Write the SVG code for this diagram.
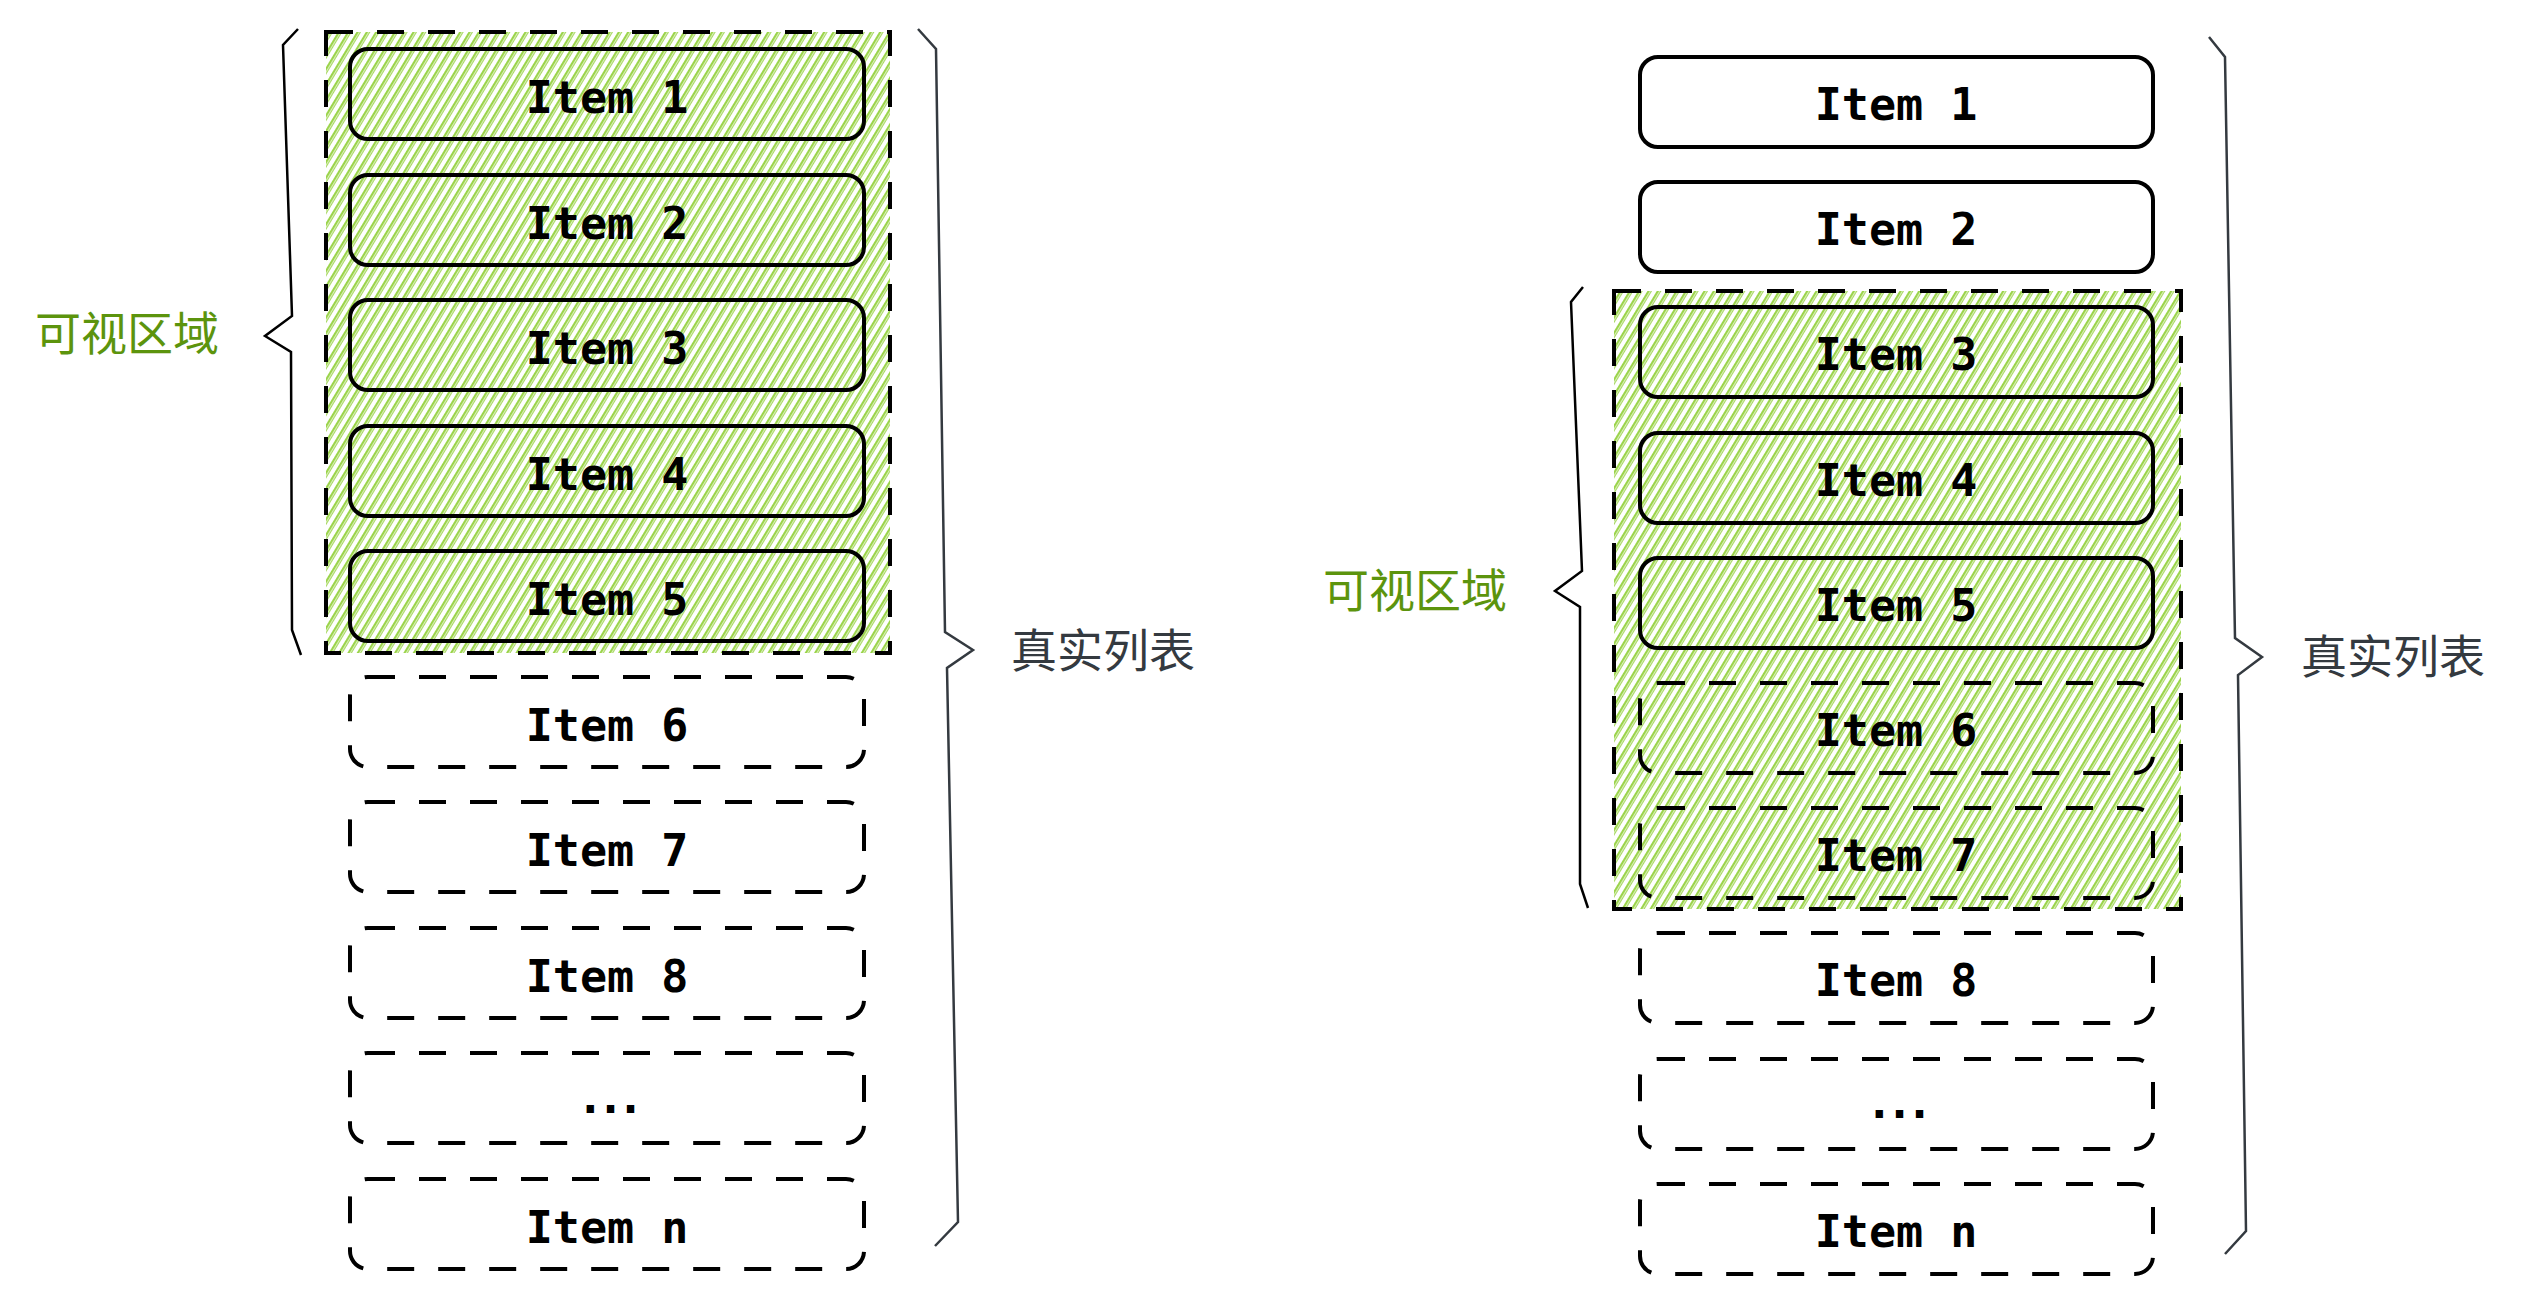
<svg xmlns="http://www.w3.org/2000/svg" width="2521" height="1305" viewBox="0 0 2521 1305">
<defs>
<pattern id="hatch" patternUnits="userSpaceOnUse" width="8" height="8" patternTransform="rotate(31)">
<line x1="3" y1="-1" x2="3" y2="9" stroke="#82c91e" stroke-width="1.6"/>
<line x1="5.2" y1="-1" x2="5.2" y2="9" stroke="#82c91e" stroke-width="1"/>
</pattern>
</defs>
<style>
.item{fill:none;stroke:#000;stroke-width:4}
.dash{stroke-dasharray:27 24}
.region{fill:url(#hatch);stroke:#000;stroke-width:4;stroke-dasharray:27 24}
.lbl{font-family:"DejaVu Sans Mono","Liberation Mono",monospace;font-weight:bold;font-size:45px;fill:#000;text-anchor:middle}
.green{font-family:"Noto Sans CJK SC","Noto Sans",sans-serif;font-size:46px;fill:#5c940d}
.gray{font-family:"Noto Sans CJK SC","Noto Sans",sans-serif;font-size:46px;fill:#343a40}
.brace{fill:none;stroke-width:2.5;stroke-linejoin:miter}
</style>
<rect width="2521" height="1305" fill="#fff"/>

<!-- LEFT PANEL -->
<g id="left-visible-region"><rect class="region" x="326" y="32" width="564" height="621"/></g>
<g id="left-item-1"><rect class="item" x="350" y="49" width="514" height="90" rx="18"/><text class="lbl" x="607" y="113">Item 1</text></g>
<g id="left-item-2"><rect class="item" x="350" y="175" width="514" height="90" rx="18"/><text class="lbl" x="607" y="239">Item 2</text></g>
<g id="left-item-3"><rect class="item" x="350" y="300" width="514" height="90" rx="18"/><text class="lbl" x="607" y="364">Item 3</text></g>
<g id="left-item-4"><rect class="item" x="350" y="426" width="514" height="90" rx="18"/><text class="lbl" x="607" y="490">Item 4</text></g>
<g id="left-item-5"><rect class="item" x="350" y="551" width="514" height="90" rx="18"/><text class="lbl" x="607" y="615">Item 5</text></g>
<g id="left-item-6"><rect class="item dash" x="350" y="677" width="514" height="90" rx="18"/><text class="lbl" x="607" y="741">Item 6</text></g>
<g id="left-item-7"><rect class="item dash" x="350" y="802" width="514" height="90" rx="18"/><text class="lbl" x="607" y="866">Item 7</text></g>
<g id="left-item-8"><rect class="item dash" x="350" y="928" width="514" height="90" rx="18"/><text class="lbl" x="607" y="992">Item 8</text></g>
<g id="left-item-ellipsis"><rect class="item dash" x="350" y="1053" width="514" height="90" rx="18"/><text class="lbl" x="607" y="1113" letter-spacing="-7">...</text></g>
<g id="left-item-n"><rect class="item dash" x="350" y="1179" width="514" height="90" rx="18"/><text class="lbl" x="607" y="1243">Item n</text></g>

<g id="left-visible-label"><text class="green" x="35" y="350">可视区域</text></g>
<g id="left-real-label"><text class="gray" x="1011" y="667">真实列表</text></g>

<!-- RIGHT PANEL -->
<g id="right-visible-region"><rect class="region" x="1614" y="291" width="567" height="618"/></g>
<g id="right-item-1"><rect class="item" x="1640" y="57" width="513" height="90" rx="18"/><text class="lbl" x="1896" y="120">Item 1</text></g>
<g id="right-item-2"><rect class="item" x="1640" y="182" width="513" height="90" rx="18"/><text class="lbl" x="1896" y="245">Item 2</text></g>
<g id="right-item-3"><rect class="item" x="1640" y="307" width="513" height="90" rx="18"/><text class="lbl" x="1896" y="370">Item 3</text></g>
<g id="right-item-4"><rect class="item" x="1640" y="433" width="513" height="90" rx="18"/><text class="lbl" x="1896" y="496">Item 4</text></g>
<g id="right-item-5"><rect class="item" x="1640" y="558" width="513" height="90" rx="18"/><text class="lbl" x="1896" y="621">Item 5</text></g>
<g id="right-item-6"><rect class="item dash" x="1640" y="683" width="513" height="90" rx="18"/><text class="lbl" x="1896" y="746">Item 6</text></g>
<g id="right-item-7"><rect class="item dash" x="1640" y="808" width="513" height="90" rx="18"/><text class="lbl" x="1896" y="871">Item 7</text></g>
<g id="right-item-8"><rect class="item dash" x="1640" y="933" width="513" height="90" rx="18"/><text class="lbl" x="1896" y="996">Item 8</text></g>
<g id="right-item-ellipsis"><rect class="item dash" x="1640" y="1059" width="513" height="90" rx="18"/><text class="lbl" x="1896" y="1118" letter-spacing="-7">...</text></g>
<g id="right-item-n"><rect class="item dash" x="1640" y="1184" width="513" height="90" rx="18"/><text class="lbl" x="1896" y="1247">Item n</text></g>

<g id="right-visible-label"><text class="green" x="1323" y="607">可视区域</text></g>
<g id="right-real-label"><text class="gray" x="2301" y="673">真实列表</text></g>

<!-- braces -->
<g id="braces">
<path class="brace" stroke="#000" d="M298 29 L283 45 L292 316 L265 336 L291 352 L292 630 L301 655"/>
<path class="brace" stroke="#343a40" d="M918 29 L936 49 L945 632 L973 650 L947 668 L958 1222 L935 1246"/>
<path class="brace" stroke="#000" d="M1583 287 L1571 302 L1582 571 L1555 591 L1580 607 L1580 884 L1588 908"/>
<path class="brace" stroke="#343a40" d="M2209 37 L2225 57 L2235 638 L2262 657 L2238 675 L2246 1231 L2225 1254"/>
</g>
</svg>
